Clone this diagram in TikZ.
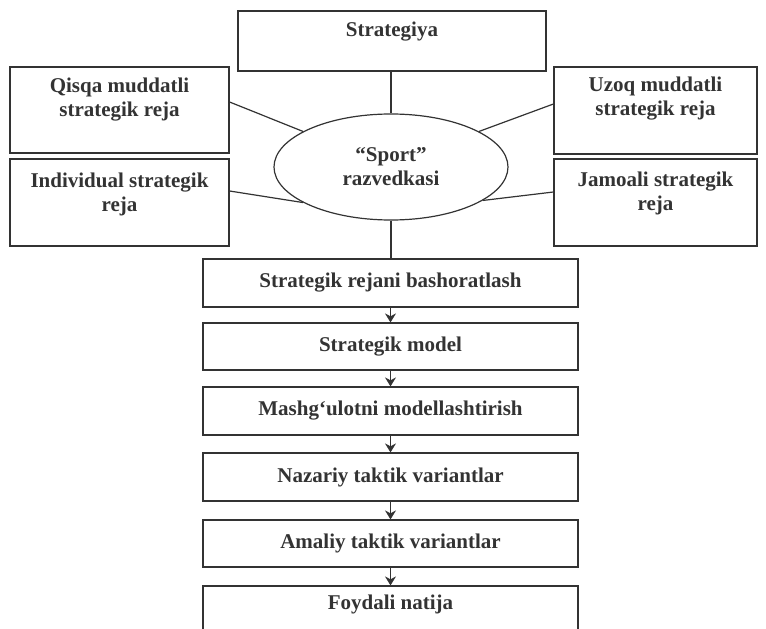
\documentclass[tikz,border=0pt]{standalone}
\usepackage{fontspec}
\setmainfont{Liberation Serif}
\usetikzlibrary{shapes.geometric,arrows.meta}
\definecolor{ink}{HTML}{333333}
\begin{document}
\begin{tikzpicture}[x=1pt,y=-1pt,
  box/.style={draw=ink,line width=1.2pt,rectangle,inner sep=0pt},
  txt/.style={text=ink,font=\fontsize{21}{24}\selectfont\bfseries,align=center,inner sep=0pt},
  flow/.style={box,minimum width=375pt,minimum height=48pt,text=ink,font=\fontsize{21}{24}\selectfont\bfseries},
  link/.style={draw=ink,line width=1.2pt},
  arr/.style={draw=ink,line width=1.2pt,-{Stealth[length=9pt,width=11pt]}}]
\clip (0,0) rectangle (766,629);
\fill[white] (0,0) rectangle (766,629);
% top box
\node[box,minimum width=308pt,minimum height=60pt] (sb) at (392,41) {};
\node[txt] (st) at (392,32) {Strategiya};
% side boxes
\node[box,minimum width=219pt,minimum height=86pt] (qb) at (119.5,110) {};
\node[txt] (qt) at (119.5,100) {Qisqa muddatli\\strategik reja};
\node[box,minimum width=219pt,minimum height=87pt] (ib) at (119.5,202.5) {};
\node[txt] (it) at (119.5,194) {Individual strategik\\reja};
\node[box,minimum width=203pt,minimum height=87pt] (ub) at (655.5,110.5) {};
\node[txt] (ut) at (655.5,99) {Uzoq muddatli\\strategik reja};
\node[box,minimum width=203pt,minimum height=87pt] (jb) at (655.5,202.5) {};
\node[txt] (jt) at (655.5,193) {Jamoali strategik\\reja};
% ellipse
\node[draw=ink,line width=1.2pt,ellipse,minimum width=234pt,minimum height=106pt,inner sep=0pt,
  text=ink,font=\fontsize{21}{24}\selectfont\bfseries,align=center] (e) at (391,167) {“Sport”\\razvedkasi};
% flow boxes
\node[flow] (f1) at (390.5,283) {Strategik rejani bashoratlash};
\node[flow,minimum height=47pt] (f2) at (390.5,346.5) {Strategik model};
\node[flow] (f3) at (390.5,411) {Mashg‘ulotni modellashtirish};
\node[flow] (f4) at (390.5,477) {Nazariy taktik variantlar};
\node[flow,minimum height=47pt] (f5) at (390.5,543.5) {Amaliy taktik variantlar};
\node[box,minimum width=375pt,minimum height=60pt] (f6b) at (390.5,616) {};
\node[txt] (f6) at (390.5,604) {Foydali natija};
% connectors
\draw[link] (e.north) -- (e.north |- sb.south);
\draw[link] (e.south) -- (e.south |- f1.north);
\draw[link] ([yshift=8pt]qb.east) -- (e.158);
\draw[link] ([yshift=11.5pt]ib.east) -- (e.202);
\draw[link] ([yshift=6.5pt]ub.west) -- (e.22);
\draw[link] ([yshift=10.5pt]jb.west) -- (e.-20);
\draw[arr] (f1.south) -- (f2.north);
\draw[arr] (f2.south) -- (f3.north);
\draw[arr] (f3.south) -- (f4.north);
\draw[arr] (f4.south) -- (f5.north);
\draw[arr] (f5.south) -- (f6b.north);
\end{tikzpicture}
\end{document}
